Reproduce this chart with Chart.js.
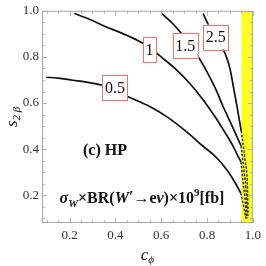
<!DOCTYPE html>
<html>
<head>
<meta charset="utf-8">
<script src="https://cdn.jsdelivr.net/npm/chart.js@4.4.1/dist/chart.umd.min.js"></script>
<style>
  html, body { margin: 0; padding: 0; background: #fff; }
</style>
</head>
<body>
<canvas id="contourChart" width="266" height="266"></canvas>
<script>
// contour lines (c_phi, s_2beta)
const c05X = [0.098, 0.15, 0.214, 0.28, 0.342, 0.40, 0.452, 0.54, 0.63, 0.71, 0.78, 0.84, 0.89, 0.925, 0.947];
const c05Y = [0.712, 0.708, 0.699, 0.690, 0.677, 0.657, 0.630, 0.590, 0.537, 0.476, 0.415, 0.365, 0.305, 0.25, 0.21];
const c1X = [0.221, 0.29, 0.356, 0.43, 0.50, 0.55, 0.60, 0.66, 0.72, 0.78, 0.83, 0.875, 0.91, 0.935, 0.948];
const c1Y = [0.988, 0.962, 0.932, 0.902, 0.870, 0.840, 0.800, 0.750, 0.690, 0.618, 0.548, 0.478, 0.42, 0.37, 0.345];
const c15X = [0.603, 0.65, 0.688, 0.72, 0.759, 0.80, 0.838, 0.87, 0.905, 0.93, 0.948];
const c15Y = [0.988, 0.945, 0.902, 0.860, 0.805, 0.735, 0.660, 0.585, 0.51, 0.455, 0.415];
const c25X = [0.783, 0.806, 0.825, 0.845, 0.865, 0.88, 0.90, 0.915, 0.93, 0.942, 0.949];
const c25Y = [0.988, 0.939, 0.905, 0.870, 0.840, 0.812, 0.75, 0.67, 0.59, 0.52, 0.48];

// dashed parts inside the yellow band
const d05X = [0.947, 0.956, 0.964, 0.970];
const d05Y = [0.21, 0.17, 0.13, 0.10];
const d1X = [0.948, 0.958, 0.967, 0.972];
const d1Y = [0.345, 0.25, 0.17, 0.10];
const d15X = [0.948, 0.962, 0.972, 0.975];
const d15Y = [0.415, 0.30, 0.19, 0.10];
const d25X = [0.949, 0.966, 0.977, 0.979];
const d25Y = [0.48, 0.35, 0.22, 0.11];

// excluded band
const bandX = [0.95, 0.95, 1.0, 1.0];
const bandY = [0.08, 1.0, 1.0, 0.08];

// contour labels
const labelText = ['0.5', '1', '1.5', '2.5'];
const labelX = [0.398, 0.549, 0.705, 0.838];
const labelY = [0.668, 0.832, 0.850, 0.886];

const majorTicks = [0.2, 0.4, 0.6, 0.8, 1.0];
const axisMin = 0.08, axisMax = 1.0;

function pts(xs, ys) {
  return xs.map((x, i) => ({ x: x, y: ys[i] }));
}

function solid(xs, ys) {
  return { data: pts(xs, ys), showLine: true, borderColor: '#111', borderWidth: 1.7, order: 1,
    pointRadius: 0, cubicInterpolationMode: 'monotone', fill: false };
}
function dashed(xs, ys) {
  return { data: pts(xs, ys), showLine: true, borderColor: '#2a2a2a', borderWidth: 1.4, order: 0,
    borderDash: [2.5, 1.5], pointRadius: 0, cubicInterpolationMode: 'monotone', fill: false };
}

const serif = "'Liberation Serif', serif";

// frame with inward ticks on all four sides
const framePlugin = {
  id: 'frame',
  afterDatasetsDraw(chart) {
    const { ctx, chartArea: a, scales: { x, y } } = chart;
    ctx.save();
    ctx.strokeStyle = '#b4b4b4';
    ctx.lineWidth = 1;
    ctx.beginPath();
    for (let v = 0.1; v <= 1.0001; v += 0.05) {
      const major = Math.abs(v / 0.2 - Math.round(v / 0.2)) < 1e-6;
      const len = major ? 5 : 3;
      const px = Math.round(x.getPixelForValue(v)) + 0.5;
      ctx.moveTo(px, a.bottom); ctx.lineTo(px, a.bottom - len);
      ctx.moveTo(px, a.top); ctx.lineTo(px, a.top + len);
      const py = Math.round(y.getPixelForValue(v)) + 0.5;
      ctx.moveTo(a.left, py); ctx.lineTo(a.left + len, py);
      ctx.moveTo(a.right, py); ctx.lineTo(a.right - len, py);
    }
    ctx.stroke();
    ctx.strokeStyle = '#a8a8a8';
    ctx.strokeRect(a.left + 0.5, a.top + 0.5, a.right - a.left - 1, a.bottom - a.top - 1);
    ctx.restore();
  }
};

// boxed contour labels
const labelPlugin = {
  id: 'contourLabels',
  afterDatasetsDraw(chart) {
    const { ctx, scales: { x, y } } = chart;
    ctx.save();
    ctx.font = '16px ' + serif;
    ctx.textAlign = 'center';
    ctx.textBaseline = 'middle';
    labelText.forEach((t, i) => {
      const cx = x.getPixelForValue(labelX[i]);
      const cy = y.getPixelForValue(labelY[i]);
      const w = ctx.measureText(t).width + 5;
      const h = 25;
      ctx.fillStyle = '#fff';
      ctx.fillRect(cx - w / 2, cy - h / 2, w, h);
      ctx.strokeStyle = '#f47070';
      ctx.lineWidth = 1;
      ctx.strokeRect(Math.round(cx - w / 2) + 0.5, Math.round(cy - h / 2) + 0.5, Math.round(w), h);
      ctx.fillStyle = '#111';
      ctx.fillText(t, cx, cy + 1);
    });
    ctx.restore();
  }
};

function drawRich(ctx, parts, cx, y) {
  let w = 0;
  parts.forEach(p => { ctx.font = p[1]; w += ctx.measureText(p[0]).width; });
  let x = cx - w / 2;
  parts.forEach(p => {
    ctx.font = p[1];
    ctx.fillText(p[0], x, y + (p[2] || 0));
    x += ctx.measureText(p[0]).width;
  });
}

// in-plot texts and axis titles
const textPlugin = {
  id: 'texts',
  afterDraw(chart) {
    const { ctx, chartArea: a } = chart;
    ctx.save();
    ctx.fillStyle = '#111';
    ctx.textBaseline = 'alphabetic';
    ctx.textAlign = 'left';
    drawRich(ctx, [['(c) HP', 'bold 16px ' + serif]], 105, 155);
    const b = 'bold 16px ' + serif, bi = 'italic bold 16px ' + serif;
    drawRich(ctx, [
      ['σ', bi], ['W', 'italic bold 11px ' + serif, 4], ['×BR(', b], ['W', bi],
      ['′', b, -1], ['→e', b], ['ν', bi], [')×10', b], ['9', 'bold 11px ' + serif, -7], ['[fb]', b]
    ], 142, 203);
    // x title c_phi
    const cx = (a.left + a.right) / 2;
    drawRich(ctx, [['c', 'italic 17px ' + serif], ['ϕ', 'italic 11px ' + serif, 3]], cx, 260);
    // y title s_2beta
    ctx.translate(17, (a.top + a.bottom) / 2);
    ctx.rotate(-Math.PI / 2);
    drawRich(ctx, [['s', 'italic 17px ' + serif], ['2 β', 'italic 11px ' + serif, 3]], 0, 0);
    ctx.restore();
  }
};

const tickFont = { family: serif, size: 13 };

new Chart(document.getElementById('contourChart'), {
  type: 'scatter',
  data: {
    datasets: [
      { data: pts(bandX, bandY), showLine: true, borderWidth: 0, pointRadius: 0, order: 2,
        backgroundColor: '#ffff22', fill: 'shape' },
      solid(c05X, c05Y), solid(c1X, c1Y), solid(c15X, c15Y), solid(c25X, c25Y),
      dashed(d05X, d05Y), dashed(d1X, d1Y), dashed(d15X, d15Y), dashed(d25X, d25Y)
    ]
  },
  options: {
    responsive: false,
    animation: false,
    layout: { padding: { top: 7, right: 8, left: 0, bottom: 0 } },
    plugins: { legend: { display: false }, tooltip: { enabled: false } },
    scales: {
      x: {
        type: 'linear', min: axisMin, max: axisMax,
        afterBuildTicks: s => { s.ticks = majorTicks.map(v => ({ value: v })); },
        afterFit: s => { s.height = 43; },
        grid: { display: false, drawTicks: false }, border: { display: false },
        ticks: { font: tickFont, color: '#333', padding: 5, maxRotation: 0,
          callback: v => v.toFixed(1) }
      },
      y: {
        type: 'linear', min: axisMin, max: axisMax,
        afterBuildTicks: s => { s.ticks = majorTicks.map(v => ({ value: v })); },
        afterFit: s => { s.width = 42; },
        grid: { display: false, drawTicks: false }, border: { display: false },
        ticks: { font: tickFont, color: '#333', padding: 3,
          callback: v => v.toFixed(1) }
      }
    }
  },
  plugins: [framePlugin, labelPlugin, textPlugin]
});
</script>
</body>
</html>
